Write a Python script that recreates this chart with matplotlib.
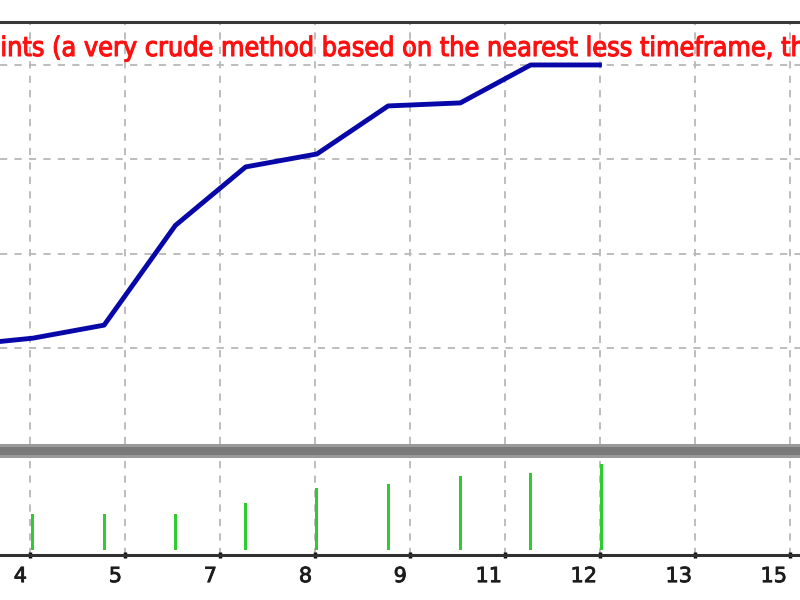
import matplotlib
matplotlib.use("Agg")
import matplotlib.pyplot as plt
import matplotlib.transforms as mtransforms
import matplotlib.patheffects as pe
from matplotlib.patches import Rectangle

# ---- data ----
tick_labels = ["4", "5", "7", "8", "9", "11", "12", "13", "15"]
tick_pos = [0, 1, 2, 3, 4, 5, 6, 7, 8]

# balance line (x in tick units)
line_x = [-0.72, 0.03, 0.78, 1.53, 2.27, 3.02, 3.77, 4.53, 5.27, 6.02]
line_y = [1030, 1106, 1244, 2300, 2920, 3057, 3566, 3598, 4000, 4000]

# volume / lot bars in lower panel
bar_x = [0.03, 0.78, 1.53, 2.27, 3.02, 3.77, 4.53, 5.27, 6.02]
bar_h = [36, 36, 36, 47, 62, 66, 74, 77, 86]

y_grid = [1000, 2000, 3000, 4000]

header_text = ("Control points (a very crude method based on the nearest less "
               "timeframe, the results must be refined)")

W, H = 800, 600
fig = plt.figure(figsize=(8, 6), dpi=100)
fig.patch.set_facecolor("white")

grid_kw = dict(color="#b8b8b8", linestyle=(0, (4, 4)), linewidth=1.3)
xlim = (-30 / 95, 770 / 95)

# ---- top panel ----
ax = fig.add_axes([0, 1 - 444 / H, 1, (444 - 22) / H])
ax.set_xlim(*xlim)
ax.set_ylim(-15, 4455)
ax.set_xticks(tick_pos)
ax.set_yticks(y_grid)
ax.grid(True, **grid_kw)
ax.tick_params(length=0, labelbottom=False, labelleft=False)
for s in ("left", "right", "bottom"):
    ax.spines[s].set_visible(False)
ax.spines["top"].set_color("#383838")
ax.spines["top"].set_linewidth(2.2)
ax.plot(line_x, line_y, color="#0808a8", lw=3.5, solid_joinstyle="round",
        solid_capstyle="butt", zorder=3)

# ---- bottom panel ----
ax2 = fig.add_axes([0, 1 - 555 / H, 1, (555 - 458) / H])
ax2.set_xlim(*xlim)
ax2.set_ylim(-5, 92)
ax2.set_xticks(tick_pos)
ax2.set_xticklabels(tick_labels, ha="right")
ax2.set_yticks([])
ax2.grid(True, axis="x", **grid_kw)
for s in ("left", "right", "top"):
    ax2.spines[s].set_visible(False)
ax2.spines["bottom"].set_color("#303030")
ax2.spines["bottom"].set_linewidth(2.2)
ax2.tick_params(axis="x", length=4, width=2.5, direction="inout", color="#111111",
                pad=6, labelsize=15, labelcolor="#1c1c1c")
off = mtransforms.ScaledTranslation(-3 / 100, 0, fig.dpi_scale_trans)
for lbl in ax2.get_xticklabels():
    lbl.set_transform(lbl.get_transform() + off)
    lbl.set_path_effects([pe.withStroke(linewidth=0.6, foreground="#1c1c1c")])
ax2.bar(bar_x, bar_h, width=0.03, color="#2ecc2e", zorder=3)

# ---- separator between panels ----
fig.patches.append(Rectangle((0, 1 - 458 / H), 1, 14 / H, transform=fig.transFigure,
                             facecolor="#9a9a9a", edgecolor="none", zorder=5))
fig.patches.append(Rectangle((0, 1 - 455 / H), 1, 8 / H, transform=fig.transFigure,
                             facecolor="#7a7a7a", edgecolor="none", zorder=6))

# ---- red header text, positioned so that "ints" starts near the left edge ----
renderer = fig.canvas.get_renderer()
fkw = dict(family="DejaVu Sans", stretch="condensed", color="#ff1010")
probe = fig.text(0, 0, "ints (a very crude method based on the nearest less timeframe,",
                 fontsize=10, **fkw)
w10 = probe.get_window_extent(renderer).width
probe.remove()
fs = 10 * 775 / w10
pre = fig.text(0, 0, "Control po", fontsize=fs, **fkw)
wpre = pre.get_window_extent(renderer).width
pre.remove()
fig.text((0 - wpre) / W, 1 - 56 / H, header_text, fontsize=fs, va="baseline",
         ha="left", path_effects=[pe.withStroke(linewidth=0.8, foreground="#ff1010")],
         **fkw)

fig.savefig("out.png", dpi=100)
